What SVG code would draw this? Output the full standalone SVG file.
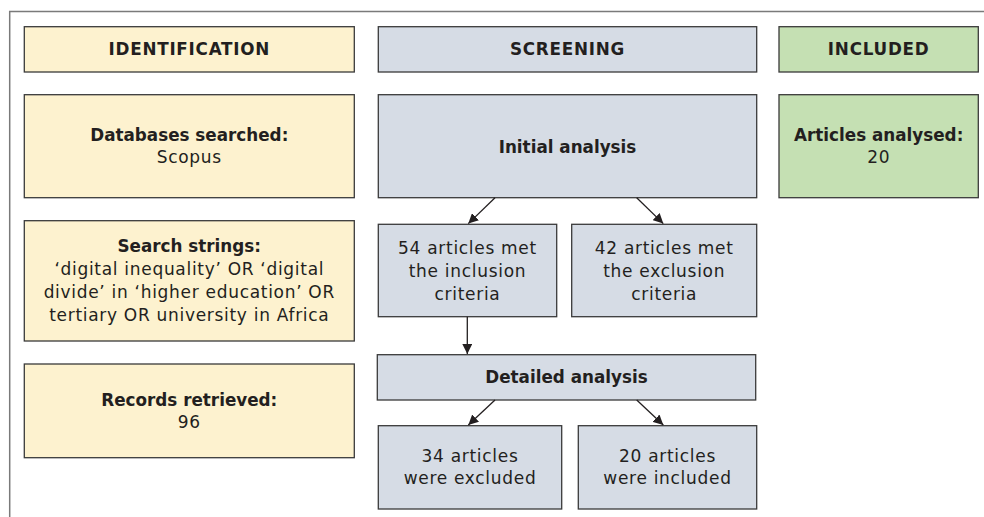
<svg xmlns="http://www.w3.org/2000/svg" width="984" height="517" viewBox="0 0 984 517">
<style>
.box{stroke:#3a3a3a;stroke-width:1.3}
.y{fill:#fdf2cf}
.b{fill:#d6dce5}
.g{fill:#c5e0b3}
text{font-family:"DejaVu Sans","Liberation Sans",sans-serif;font-size:17px;letter-spacing:0.7px;fill:#231f20;text-anchor:middle}
text.bold{font-weight:bold;font-size:16.8px;letter-spacing:0}
text.head{letter-spacing:0.75px}
.conn line{stroke:#231f20;stroke-width:1.3}
</style>
<defs>
<marker id="ah" viewBox="0 0 10 10" refX="10" refY="5" markerWidth="10" markerHeight="10" markerUnits="userSpaceOnUse" orient="auto">
<path d="M0,0 L10,5 L0,10 z" fill="#231f20"/>
</marker>
</defs>
<rect width="984" height="517" fill="#ffffff"/>
<path d="M9.7,517 V11.5 H984" fill="none" stroke="#7a7a7a" stroke-width="1.5"/>

<g id="identification">
<rect class="box y" x="24.3" y="26.7" width="330" height="45.3"/>
<text class="bold head" x="189.3" y="55">IDENTIFICATION</text>
</g>
<g id="databases">
<rect class="box y" x="24.3" y="94.7" width="330" height="103"/>
<text class="bold" x="189.3" y="140.7">Databases searched:</text>
<text x="189.3" y="163.3">Scopus</text>
</g>
<g id="search">
<rect class="box y" x="24.3" y="220.7" width="330" height="120.3"/>
<text class="bold" x="189.3" y="252.3">Search strings:</text>
<text x="189.3" y="275.3">‘digital inequality’ OR ‘digital</text>
<text x="189.3" y="298">divide’ in ‘higher education’ OR</text>
<text x="189.3" y="320.7">tertiary OR university in Africa</text>
</g>
<g id="records">
<rect class="box y" x="24.3" y="364" width="330" height="93.7"/>
<text class="bold" x="189.3" y="405.7">Records retrieved:</text>
<text x="189.3" y="427.7">96</text>
</g>

<g id="screening">
<rect class="box b" x="378.3" y="26.7" width="378.4" height="45.3"/>
<text class="bold head" x="567.5" y="55">SCREENING</text>
</g>
<g id="initial">
<rect class="box b" x="378.3" y="94.7" width="378.4" height="103"/>
<text class="bold" x="567.5" y="152.7">Initial analysis</text>
</g>
<g id="met-inclusion">
<rect class="box b" x="378.3" y="224.3" width="178.4" height="92.4"/>
<text x="467.5" y="254.3">54 articles met</text>
<text x="467.5" y="277">the inclusion</text>
<text x="467.5" y="299.7">criteria</text>
</g>
<g id="met-exclusion">
<rect class="box b" x="571.7" y="224.3" width="185" height="92.4"/>
<text x="664.2" y="254.3">42 articles met</text>
<text x="664.2" y="277">the exclusion</text>
<text x="664.2" y="299.7">criteria</text>
</g>
<g id="detailed">
<rect class="box b" x="377.3" y="354.7" width="378.4" height="45.3"/>
<text class="bold" x="566.5" y="383.3">Detailed analysis</text>
</g>
<g id="excluded">
<rect class="box b" x="378.3" y="425.7" width="183.4" height="83.3"/>
<text x="470" y="462.3">34 articles</text>
<text x="470" y="484.3">were excluded</text>
</g>
<g id="included-20">
<rect class="box b" x="578.3" y="425.7" width="178.4" height="83.3"/>
<text x="667.5" y="462.3">20 articles</text>
<text x="667.5" y="484.3">were included</text>
</g>

<g id="included">
<rect class="box g" x="779" y="26.7" width="199.3" height="45.3"/>
<text class="bold head" x="878.7" y="55">INCLUDED</text>
</g>
<g id="analysed">
<rect class="box g" x="779" y="94.7" width="199.3" height="103"/>
<text class="bold" x="878.7" y="140.7">Articles analysed:</text>
<text x="878.7" y="163.3">20</text>
</g>

<g id="connectors" class="conn">
<line x1="495" y1="197.7" x2="468.3" y2="223.6" marker-end="url(#ah)"/>
<line x1="636.7" y1="197.7" x2="663.3" y2="223.6" marker-end="url(#ah)"/>
<line x1="467.3" y1="316.7" x2="467.3" y2="354" marker-end="url(#ah)"/>
<line x1="495" y1="400" x2="468.3" y2="425" marker-end="url(#ah)"/>
<line x1="636.7" y1="400" x2="663.3" y2="425" marker-end="url(#ah)"/>
</g>
</svg>
